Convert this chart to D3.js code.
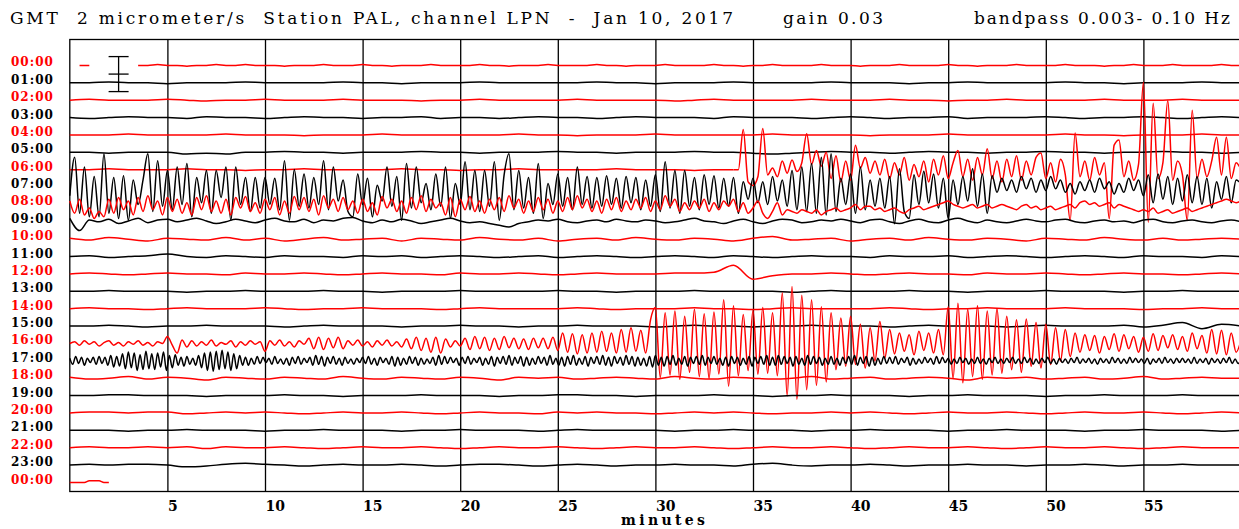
<!DOCTYPE html>
<html>
<head>
<meta charset="utf-8">
<script src="https://cdn.jsdelivr.net/npm/d3@7"></script>
<style>
  body { margin: 0; background: #fff; }
</style>
</head>
<body>
<div id="viz"></div>
<script>

// helicorder: one trace per hour, minutes across
var hours = ["00:00","01:00","02:00","03:00","04:00","05:00","06:00","07:00","08:00","09:00",
  "10:00","11:00","12:00","13:00","14:00","15:00","16:00","17:00","18:00","19:00",
  "20:00","21:00","22:00","23:00","00:00"];
var minuteTicks = [5, 10, 15, 20, 25, 30, 35, 40, 45, 50, 55];

// trace values, units of 0.05 micrometer/s (40 units = scale bar)
// quiet hours: one value per minute, 0..60
var q01 = [0,0,1,0,0,-1,0,0,0,1, 0,0,0,0,1,0,0,-1,0,0, 0,1,0,0,0,0,0,1,0,0, -1,0,0,0,1,0,0,0,0,1, 0,0,0,-1,0,0,1,0,0,0, 0,1,0,0,-1,0,0,0,1,0, 0];
var q02 = [0,1,0,0,0,1,0,-1,0,0, 1,0,0,0,1,0,0,0,-1,0, 0,1,0,0,0,0,1,0,0,0, 0,-1,0,1,0,0,0,0,1,0, 0,0,1,0,0,-1,0,0,1,0, 0,0,0,1,0,0,0,1,0,0, 0];
var q03 = [0,-1,0,1,0,0,-1,1,0,0, -1,0,1,0,0,-1,0,0,1,-1, 0,0,-1,0,1,0,0,-1,0,1, 0,0,0,-1,1,0,0,0,-1,0, 1,0,-1,0,0,1,-1,0,0,0, 1,0,-1,0,0,1,0,-1,0,1, 0];
var q04 = [0,0,0,1,0,0,0,0,1,0, 0,0,-1,0,0,0,1,0,0,0, 0,0,0,1,0,0,-1,0,0,0, 1,0,0,0,0,0,1,0,0,0, 0,-1,0,0,0,1,0,0,0,0, 0,1,0,0,-1,0,0,0,1,0, 0];
var q05 = [0,0,-1,0,0,0,-2,-1,-2,0, 0,1,0,0,-1,0,0,0,1,0, 0,-1,0,0,0,1,0,0,-1,0, 0,0,1,0,0,-1,-2,-1,0,1, 0,0,-1,0,1,0,0,-1,0,0, 1,0,0,-1,0,0,1,0,0,-1, 0];
var q06 = [0,0,1,0,0,0,1,0,0,-1, 0,0,1,0,0,0,0,1,0,0, -1,0,0,1,0,0,0,0,1,0, 0,0,-1,0,0];
var q10 = [1,-1,2,0,-2,1,0,-1,2,-1, 1,-2,0,2,-1,0,1,-2,1,0, -1,2,0,-1,1,-2,0,1,-1,2, 0,-1,1,0,-2,1,3,-1,0,1, -2,0,1,-1,2,0,-1,1,0,-2, 1,0,-1,2,0,-1,1,-1,0,1, 0];
var q11 = [0,1,-1,0,1,3,0,-1,1,0, -1,1,0,0,-1,1,0,1,-1,0, 1,0,-1,0,1,-1,0,1,0,-1, 0,1,0,-1,1,0,-1,0,1,0, 0,-1,1,0,0,1,-1,0,1,0, -1,0,1,0,-1,1,0,0,-1,1, 0];
var q12 = [0,1,0,-1,0,1,0,0,-1,1, 0,0,1,0,-1,0,1,0,0,-1, 1,0,0,1,0,-1,0,1,0,0, 0,1,1,2,10,-6,-2,0,0,1, 0,-1,0,1,0,0,-1,1,0,0, 1,0,-1,0,1,0,0,-1,0,1, 0];
var q13 = [0,0,1,0,0,0,-1,0,0,1, 0,0,0,1,0,0,-1,0,0,0, 1,0,0,0,0,1,0,0,-1,0, 0,0,1,0,0,0,0,-1,0,1, 0,0,0,1,0,0,-1,0,0,0, 1,0,0,0,-1,0,0,1,0,0, 0];
var q14 = [0,1,0,0,-1,0,1,0,0,0, 1,0,-1,0,0,1,0,0,0,-1, 0,1,0,0,0,0,1,0,-1,0, 0,0,1,0,0,-1,0,1,0,0, 0,0,1,0,-1,0,0,1,0,0, 0,1,0,0,0,-1,0,0,1,0, 0];
var q15 = [0,0,1,0,-1,0,0,1,0,0, 0,-1,0,1,0,0,0,-1,0,0, 1,0,0,-1,0,0,1,0,0,0, -1,0,1,0,0,-1,0,0,1,0, 0,0,-1,0,1,0,0,0,-1,0, 1,0,0,0,1,-1,1,4,-3,2, 0];
var q18 = [1,-1,0,2,-1,1,0,-2,1,0, -1,1,0,-1,2,0,-1,1,0,-1, 1,0,-2,1,0,1,-1,0,1,0, -1,2,0,-1,1,0,-1,0,2,-1, 0,1,-1,0,1,0,-2,1,0,1, -1,0,1,-1,0,2,-1,0,1,0, 0];
var q19 = [0,0,1,1,0,0,0,-1,0,0, 0,1,0,0,-1,0,0,0,1,0, 0,0,-1,0,0,1,1,0,0,-1, 0,0,0,1,0,0,-1,0,0,1, 0,0,0,-1,0,0,1,0,0,0, -1,0,0,1,0,0,0,1,0,0, 0];
var q20 = [0,1,1,0,1,1,-1,0,1,0, 1,0,-1,0,1,0,0,1,0,-1, 0,1,0,0,-1,1,0,1,0,0, -1,0,1,0,1,0,-1,0,0,1, 0,1,0,-1,0,1,0,0,1,0, -1,0,1,0,0,1,0,-1,0,1, 0];
var q21 = [0,0,0,-1,0,0,1,0,0,0, -1,0,0,1,0,0,0,-1,0,0, 1,0,0,0,-1,0,1,0,0,0, 0,-1,0,0,1,0,0,0,-1,0, 0,1,0,0,0,-1,0,0,1,0, 0,0,-1,0,0,1,0,0,0,-1, 0];
var q22 = [0,1,0,0,1,0,1,-1,1,0, 0,1,0,-1,0,1,0,0,1,0, -1,0,1,0,0,1,0,-1,0,1, 0,0,1,0,-1,0,1,0,0,1, 0,-1,0,1,0,0,1,0,-1,0, 1,0,0,1,0,-1,0,1,0,0, 0];
var q23 = [0,1,0,1,1,0,-2,-1,1,2, 1,0,-1,0,1,0,0,1,0,-1, 0,1,1,0,-1,0,1,0,-1,0, 0,1,0,0,-1,1,2,0,-1,0, 0,1,0,-1,0,0,1,0,0,-1, 0,0,1,0,-1,0,0,1,0,0, 0];

// first hour, every half minute (gap where the scale bar sits)
var t00 = [null,0,0,null,null,null,null,
  0,0,1,0,0,-1,0,0,1,0, 0,1,0,0,0,-1,0,0,0,1, 0,0,0,1,0,0,-1,0,0,0, 1,0,0,0,0,1,0,0,-1,0,
  0,0,1,0,0,0,0,1,0,0, -1,0,0,0,1,0,0,0,0,1, 0,0,-1,0,0,1,0,0,0,0, 1,0,0,0,-1,0,0,0,1,0,
  0,0,0,1,0,0,-1,0,0,0, 1,0,0,0,0,1,0,0,0,-1, 0,0,1,0,0,0,1,0,0,0, 0,1,0,0];

// 06:00 from minute 34, every quarter minute
var t06 = [0,0,46,-14, -18,-8,47,-6, 2,-8,10,-4, 11,-2,8,41, 6,22,4,20, -10,16,-14,10,
  -12,28,2,14, -4,10,-6,12, -10,8,-6,14, -12,6,-8,10, -14,12,-6,16, -10,8,22,-8,
  12,-12,14,-6, 24,-10,10,-14, 12,-8,16,-12, 10,-6,14,19, -10,8,-14,12, -6,-58,42,-8,
  10,-12,14,-6, 8,-56,28,34, -8,10,-12,6, 100,-60,76,-10, 8,79,-12,10, -6,-58,68,-10,
  12,-8,10,37, -6,37,-10,8, 0];

// 07:00, every quarter minute
var t07 = [-10,34,-30,23, -34,12,-34,38, -30,11,-36,13, -38,8,-20,8, 38,-28,30,-22,
  19,-26,23,-20, 27,-34,11,-18, 19,-30,19,-12, 23,-38,23,-20, 11,-28,11,-24,
  11,-20,10,-26, 30,-38,20,-22, 15,-24,11,-20, 30,-26,23,-16, 8,-28,-34,15,
  -20,10,-34,2, -16,23,-22,12, -38,27,-24,23, -18,4,-26,15, -22,23,-36,4,
  -20,29,-26,19, -28,19,-22,29, -38,14,38,-26, 19,-24,11,-30, 27,-36,4,-20,
  15,-22,11,-26, 23,-20,12,-24, 11,-22,13,-20, 10,-24,12,-18, 11,-26,8,-22,
  14,-28,29,-24, 19,-30,19,-22, 11,-26,14,-20, 13,-24,10,-22, 11,-30,6,-14,
  10,-18,6,-20, 12,-16,8,-22, 19,-26,23,-28, 27,-30,34,-32, 38,-28,10,-20,
  15,-30,23,-26, 8,-22,10,-24, 12,-42,21,-28, -36,14,-20,18, -18,15,-24,10,
  -36,8,-20,12, -16,21,-22,15, -30,13,-6,10, -4,8,-6,12, -2,10,-6,8,
  -4,12,-2,8, -6,4,-8,6, -4,8,-6,10, -2,6,-8,4, -6,10,-4,8,
  -10,14,-18,15, -14,12,-20,10, -16,14,-18,12, -20,10,-24,6, -14,12,-18,8, 4];

// 08:00, every quarter minute
var t08 = [4,-10,6,-12, -4,-16,-8,-14, 6,-10,8,-6, 4,-12,8,-8, 10,-6,4,-12,
  8,-8,6,-10, 2,-12,8,-6, 10,-8,4,-10, 6,-12,8,-4, 9,-8,2,-10,
  6,-6,8,-12, 4,-10,9,-6, 8,-8,6,-12, 10,-4,6,-8, 8,-6,4,-10,
  6,-8,2,-12, 9,-4,6,-8, 4,-10,8,-6, 10,-8,6,-4, 2,-12,8,-14,
  6,-6,9,-8, 4,-10,6,-6, 8,-8,10,-4, 6,-10,4,-8, 8,-6,6,-10,
  4,-8,8,-6, 10,-4,6,-8, 4,-10,6,-6, 8,-8,4,-6, 6,-4,8,-8,
  4,-6,10,-2, 6,-8,2,-6, 4,-4,6,-8, 2,-6,4,-2, 6,-8,2,-10,
  -4,4,-10,-16, -8,2,-12,-6, -8,-10,-6,-8, -10,-6,-12,-8, -6,-4,-8,-6,
  -4,0,-6,-2, -2,-6,-4,-8, -6,-4,-8,-10, -6,-4,-2,-6, -4,-2,0,2,
  4,0,-2,-4, -2,0,-4,-2, 0,-4,-2,0, -2,-4,-6,-2, 0,-4,-2,-6,
  -4,-2,-6,-4, -2,0,-4,2, 4,0,2,-2, 0,2,-4,0, -2,-4,-6,-8,
  -6,-8,-4,-10, -8,-6,-10,-8, -6,-4,-8,-6, -4,-2,0,2, 4,6,4,2, 4];

// 09:00, every half minute
var t09 = [4,-10,2,0,3,-2,1,4,-1,2, 3,0,2,4,1,-2,0,3,1,-1, 2,4,1,0,3,-1,2,1,4,5,
  1,-1,2,0,3,1,-2,0,2,4, 1,-1,0,-2,-4,-6,-2,0,2,1, 3,0,-1,1,2,0,3,1,0,2,
  1,-1,0,2,4,1,0,-2,1,3, 0,-2,1,3,2,-1,0,2,1,3, 1,-1,2,3,0,-2,1,3,0,-1,
  2,4,1,-1,2,0,-1,1,3,1, 0,2,3,0,-1,1,2,0,1,-1, 2,3,0,-1,1,2,0,-1,1,2, 0];

// 16:00, every quarter minute
var t16 = [0,2,-2,3, -1,2,-3,1, 3,-2,1,-3, 2,-1,3,-2, 1,-3,2,0,
  8,-2,-11,4, -4,3,-3,2, -2,4,-3,1, -1,3,-4,2, -2,3,-1,2,
  -9,3,-2,4, -3,2,-4,3, -1,6,-6,7, -7,6,-5,7, -6,3,-2,4,
  -3,2,-4,3, -2,4,-3,2, -4,5,-6,7, -8,6,-10,7, -11,5,-4,3,
  -3,6,-7,8, -6,7,-8,6, -7,8,-5,6, -6,5,-7,6, -5,6,-6,7,
  -8,12,-10,11, -12,10,-11,12, -10,14,-9,12, -11,16,-10,18, -9,15,-11,27,
  41,-39,35,-36, 37,-41,31,-33, 39,-38,34,-40, 36,-35,50,-49, 43,-37,33,-31,
  38,-35,41,-34, 35,-37,58,-60, 65,-64,55,-53, 50,-48,42,-44, 35,-30,29,-26,
  31,-24,22,-28, 18,-20,25,-17, 16,-12,12,-9, 10,-13,14,-8, 12,-11,16,-13,
  42,-40,46,-45, 39,-38,43,-41, 37,-36,40,-34, 31,-30,27,-33, 28,-26,24,-28,
  22,-24,18,-20, 16,-15,12,-10, 10,-8,9,-11, 8,-7,11,-9, 10,-6,8,-10,
  7,-9,11,-8, 9,-5,10,-7, 8,-9,12,-6, 9,-11,16,-12, 15,-13,12,-10, 4];

// 17:00, every 0.15 minute
var t17 = [3,-4,5,-3,4,-5,3,-2,4,-4, 5,-3,4,-5,6,-7,5,-6,8,-9,
  10,-8,9,-11,7,-10,11,-9,8,-10, 9,-7,10,-11,6,-8,7,-5,4,-6,
  5,-4,3,-5,6,-8,9,-11,10,-12, 11,-10,12,-9,10,-11,8,-9,6,-5,
  4,-5,3,-4,5,-3,4,-2,3,-4, 5,-3,2,-4,3,-5,4,-3,5,-4,
  3,-2,4,-5,6,-4,5,-6,4,-3, 5,-4,3,-5,4,-3,2,-4,3,-2,
  4,-3,5,-4,3,-5,4,-2,3,-4, 5,-6,4,-5,3,-4,5,-3,4,-5,
  3,-4,2,-3,4,-5,6,-4,5,-3, 4,-2,3,-5,4,-3,5,-4,3,-2,
  4,-5,3,-4,5,-6,4,-3,5,-4, 6,-5,4,-3,5,-6,4,-5,3,-4,
  5,-3,4,-5,6,-4,3,-5,4,-6, 5,-4,6,-5,3,-4,5,-6,4,-3,
  5,-4,6,-5,4,-6,5,-3,4,-5, 6,-4,5,-6,4,-5,3,-6,5,-7,
  6,-5,4,-6,5,-4,6,-5,3,-4, 5,-6,4,-3,5,-4,6,-5,4,-3,
  5,-4,3,-5,4,-6,5,-3,4,-5, 3,-4,5,-6,4,-3,5,-4,6,-5,
  4,-5,6,-4,5,-3,4,-6,5,-4, 3,-5,6,-4,5,-3,4,-5,3,-4,
  5,-4,3,-5,4,-3,5,-4,6,-5, 4,-3,5,-6,4,-5,3,-4,5,-3,
  4,-3,5,-4,3,-2,4,-5,3,-4, 2,-3,4,-2,3,-4,5,-3,4,-2,
  3,-4,2,-3,4,-2,3,-4,2,-3, 4,-3,2,-4,3,-2,4,-3,2,-3,
  3,-2,4,-3,2,-3,4,-2,3,-4, 2,-3,3,-2,4,-3,2,-4,3,-2,
  2,-3,3,-2,4,-3,2,-2,3,-3, 2,-4,3,-2,2,-3,4,-2,3,-3,
  2,-3,4,-2,3,-2,2,-3,3,-4, 2,-2,3,-3,4,-2,2,-3,3,-2,
  3,-2,2,-3,4,-3,2,-2,3,-4, 3,-2,2,-3,3,-2,4,-3,2,-3, 0];

// last 00:00 line, first two minutes only
var t24 = [0,0,0,0,2,2,2,0,0];

// [row, first minute, step in minutes, values]
var series = [
  [0, 0, 0.5, t00], [1, 0, 1, q01], [2, 0, 1, q02], [3, 0, 1, q03], [4, 0, 1, q04],
  [5, 0, 1, q05], [6, 0, 1, q06], [6, 34, 0.25, t06], [7, 0, 0.25, t07], [8, 0, 0.25, t08],
  [9, 0, 0.5, t09], [10, 0, 1, q10], [11, 0, 1, q11], [12, 0, 1, q12], [13, 0, 1, q13],
  [14, 0, 1, q14], [15, 0, 1, q15], [16, 0, 0.25, t16], [17, 0, 0.15, t17], [18, 0, 1, q18],
  [19, 0, 1, q19], [20, 0, 1, q20], [21, 0, 1, q21], [22, 0, 1, q22], [23, 0, 1, q23],
  [24, 0, 0.25, t24]
];

var width = 1239, height = 529;
var plotTop = 39.5, plotBottom = 491.5;

var x = d3.scaleLinear().domain([0, 60]).range([69.8, 1241]);
var row = d3.scalePoint().domain(d3.range(hours.length)).range([65.4, 482.5]);
var amp = d3.scaleLinear().domain([-20, 20]).range([17.5, -17.5]);

function colour(i) { return i % 2 === 0 ? "#ff0000" : "#000000"; }

var svg = d3.select("#viz").append("svg")
  .attr("width", width)
  .attr("height", height);

svg.append("rect").attr("width", width).attr("height", height).attr("fill", "#fff");

// title line
svg.append("text")
  .attr("x", 10).attr("y", 24)
  .attr("textLength", 723).attr("lengthAdjust", "spacing")
  .style("white-space", "pre")
  .style("font", "17px 'DejaVu Serif'")
  .text("GMT  2 micrometer/s  Station PAL, channel LPN  -  Jan 10, 2017");
svg.append("text")
  .attr("x", 783).attr("y", 24)
  .attr("textLength", 100).attr("lengthAdjust", "spacing")
  .style("font", "17px 'DejaVu Serif'")
  .text("gain 0.03");
svg.append("text")
  .attr("x", 974).attr("y", 24)
  .attr("textLength", 256).attr("lengthAdjust", "spacing")
  .style("white-space", "pre")
  .style("font", "17px 'DejaVu Serif'")
  .text("bandpass 0.003- 0.10 Hz");

// minute grid + labels
var axis = d3.axisBottom(x)
  .tickValues(minuteTicks)
  .tickSize(-(plotBottom - plotTop))
  .tickSizeOuter(0)
  .tickFormat(d3.format("d"));

var gx = svg.append("g")
  .attr("transform", "translate(0," + plotBottom + ")")
  .call(axis);
gx.select(".domain").remove();
gx.selectAll(".tick line").attr("stroke", "#000").attr("stroke-width", 1.3);
gx.selectAll(".tick text")
  .attr("text-anchor", "start")
  .attr("x", 0).attr("y", 19).attr("dy", 0)
  .attr("fill", "#000")
  .style("font", "bold 14px 'DejaVu Serif'");

svg.append("text")
  .attr("x", 663).attr("y", 525)
  .attr("text-anchor", "middle")
  .attr("textLength", 84).attr("lengthAdjust", "spacing")
  .style("font", "bold 14px 'DejaVu Serif'")
  .text("minutes");

// frame
svg.append("rect")
  .attr("x", x(0)).attr("y", plotTop)
  .attr("width", x(60) - x(0)).attr("height", plotBottom - plotTop)
  .attr("fill", "none")
  .attr("stroke", "#000")
  .attr("stroke-width", 1.3);

// hour labels
svg.selectAll(".hour")
  .data(hours)
  .enter().append("text")
  .attr("class", "hour")
  .attr("x", 11)
  .attr("y", function (d, i) { return row(i) + 1; })
  .attr("fill", function (d, i) { return colour(i); })
  .style("font", "bold 12px 'DejaVu Serif'")
  .style("letter-spacing", "1px")
  .text(function (d) { return d; });

// scale bar, 2 micrometer/s
var barX = x(2.5);
var barY = (row(0) + row(1)) / 2;
var bar = svg.append("g").attr("stroke", "#000").attr("stroke-width", 1.3);
bar.append("line")
  .attr("x1", barX).attr("x2", barX)
  .attr("y1", barY + amp(20)).attr("y2", barY + amp(-20));
[20, 0, -20].forEach(function (v) {
  bar.append("line")
    .attr("x1", barX - 10).attr("x2", barX + 10)
    .attr("y1", barY + amp(v)).attr("y2", barY + amp(v));
});

// traces
for (var s = 0; s < series.length; s++) {
  var r = series[s][0], start = series[s][1], step = series[s][2], vals = series[s][3];
  var pts = vals.map(function (v, i) { return [start + i * step, v]; });
  var line = d3.line()
    .defined(function (d) { return d[1] !== null; })
    .curve(d3.curveMonotoneX)
    .x(function (d) { return x(d[0]); })
    .y((function (rr) { return function (d) { return row(rr) + amp(d[1]); }; })(r));
  svg.append("path")
    .attr("d", line(pts))
    .attr("fill", "none")
    .attr("stroke", colour(r))
    .attr("stroke-width", 1.5)
    .attr("stroke-linejoin", "round");
}

</script>
</body>
</html>
